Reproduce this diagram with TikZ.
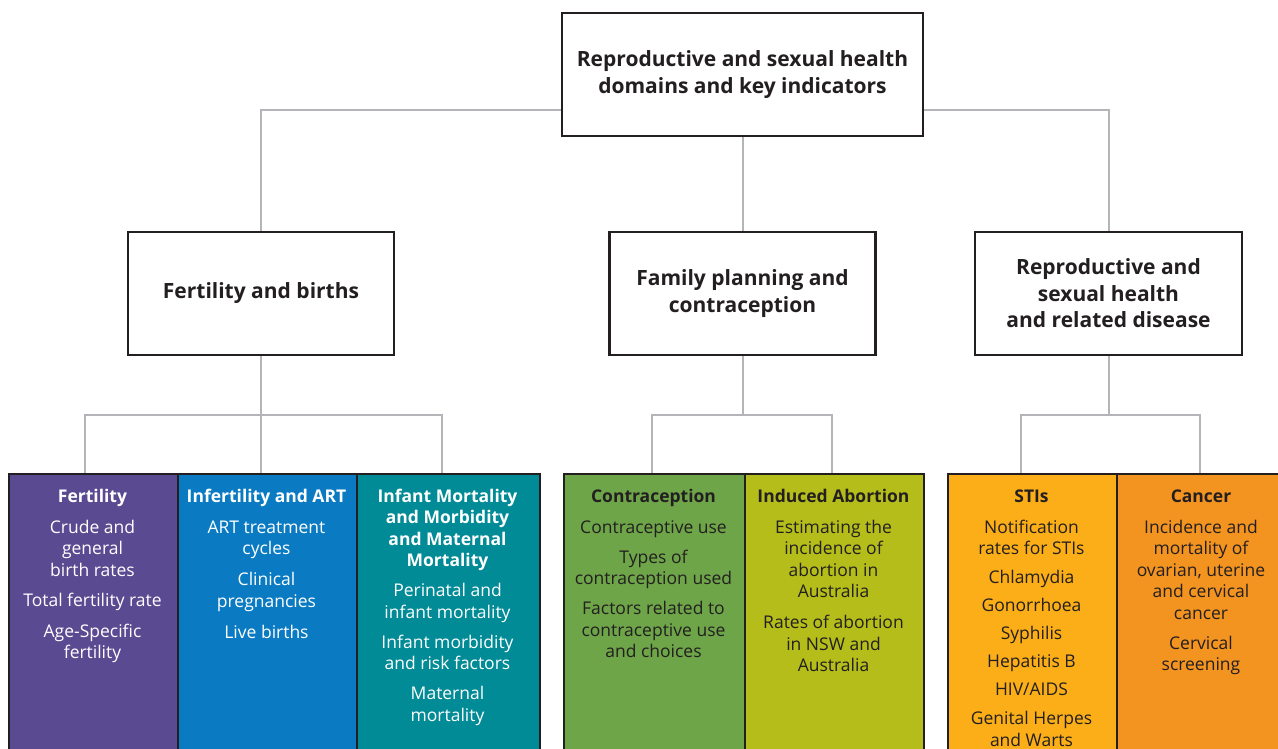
\documentclass[tikz,border=0pt]{standalone}
\usepackage{fontspec}
\setmainfont{Open Sans}
\definecolor{boxline}{HTML}{231F20}
\definecolor{txt}{HTML}{231F20}
\definecolor{connc}{HTML}{B4B5B8}
\definecolor{cpurple}{HTML}{5A4A92}
\definecolor{cblue}{HTML}{0A7BC2}
\definecolor{cteal}{HTML}{008B96}
\definecolor{cgreen}{HTML}{6DA548}
\definecolor{colive}{HTML}{B5BD1A}
\definecolor{camber}{HTML}{FBAE17}
\definecolor{corange}{HTML}{F39320}
\newcommand{\hd}[1]{\textbf{#1}}
\begin{document}
\begin{tikzpicture}[x=1pt,y=-1pt,
  hbox/.style={draw=boxline, line width=2.4pt, fill=white, inner sep=0pt, align=center,
    text=txt, font=\bfseries\fontsize{21}{26.5}\selectfont},
  conn/.style={draw=connc, line width=2pt},
  colbox/.style={draw=boxline, line width=2.2pt, anchor=north west, inner sep=0pt,
    minimum height=320pt},
  coltext/.style={anchor=north, inner sep=0pt, align=center,
    font=\fontsize{17.5}{21.5}\selectfont}]
\useasboundingbox (0,0) rectangle (1278,749);
\clip (0,0) rectangle (1278,749);

% level 1 and level 2 boxes
\node[hbox, minimum width=361pt, minimum height=123pt] (top) at (742.5,74.5)
  {Reproductive and sexual health\\domains and key indicators};
\node[hbox, minimum width=266pt, minimum height=123pt] (l2a) at (261,293.5)
  {Fertility and births};
\node[hbox, minimum width=266pt, minimum height=123pt] (l2b) at (742.5,293.5)
  {Family planning and\\contraception};
\node[hbox, minimum width=267pt, minimum height=123pt] (l2c) at (1108.5,293.5)
  {Reproductive and\\sexual health\\and related disease};

% junction coordinates
\coordinate (ja) at (261,415);
\coordinate (a1) at (85,473);
\coordinate (a2) at (261,473);
\coordinate (a3) at (442,473);
\coordinate (jb) at (742.5,415);
\coordinate (b1) at (652,473);
\coordinate (b2) at (832,473);
\coordinate (jc) at (1108.5,415);
\coordinate (c1) at (1021,473);
\coordinate (c2) at (1200,473);

% connectors
\draw[conn] (l2a.north) |- ([yshift=27pt]top.south west);
\draw[conn] (l2c.north) |- ([yshift=27pt]top.south east);
\draw[conn] (top.south) -- (l2b.north);
\draw[conn] (l2a.south) -- (ja);
\draw[conn] (a1) |- (ja) -| (a3);
\draw[conn] (ja) -- (a2);
\draw[conn] (l2b.south) -- (jb);
\draw[conn] (b1) |- (jb) -| (b2);
\draw[conn] (l2c.south) -- (jc);
\draw[conn] (c1) |- (jc) -| (c2);

% coloured columns
\node[colbox, fill=cpurple, minimum width=169pt] (k1) at (8,473) {};
\node[colbox, fill=cblue, minimum width=179pt] (k2) at (177,473) {};
\node[colbox, fill=cteal, minimum width=183pt] (k3) at (356,473) {};
\node[colbox, fill=cgreen, minimum width=181pt] (k4) at (563,473) {};
\node[colbox, fill=colive, minimum width=179pt] (k5) at (744,473) {};
\node[colbox, fill=camber, minimum width=169pt] (k6) at (947,473) {};
\node[colbox, fill=corange, minimum width=190pt] (k7) at (1116,473) {};

% column texts
\node[coltext, text=white] (t1) at (92.5,487)
  {\strut\hd{Fertility}\\[9.5pt]Crude and\\general\\birth rates\\[8.5pt]Total fertility rate\\[9.5pt]Age-Specific\\fertility};
\node[coltext, text=white] (t2) at (266.5,487)
  {\strut\hd{Infertility and ART}\\[9.5pt]ART treatment\\cycles\\[9.5pt]Clinical\\pregnancies\\[9.5pt]Live births};
\node[coltext, text=white] (t3) at (447.5,487)
  {\strut\hd{Infant Mortality}\\\hd{and Morbidity}\\\hd{and Maternal}\\\hd{Mortality}\\[8.5pt]Perinatal and\\infant mortality\\[8.5pt]Infant morbidity\\and risk factors\\[8.5pt]Maternal\\mortality};
\node[coltext, text=txt] (t4) at (653.5,487)
  {\strut\hd{Contraception}\\[9.5pt]Contraceptive use\\[8.5pt]Types of\\contraception used\\[8.5pt]Factors related to\\contraceptive use\\and choices};
\node[coltext, text=txt] (t5) at (833.5,487)
  {\strut\hd{Induced Abortion}\\[9.5pt]Estimating the\\incidence of\\abortion in\\Australia\\[9.5pt]Rates of abortion\\in NSW and\\Australia};
\node[coltext, text=txt] (t6) at (1031.5,487)
  {\strut\hd{STIs}\\[9.5pt]Notification\\rates for STIs\\[7.5pt]Chlamydia\\[6.5pt]Gonorrhoea\\[6.5pt]Syphilis\\[6.5pt]Hepatitis B\\[6.5pt]HIV/AIDS\\[7.5pt]Genital Herpes\\and Warts};
\node[coltext, text=txt] (t7) at (1201,487)
  {\strut\hd{Cancer}\\[9.5pt]Incidence and\\mortality of\\ovarian, uterine\\and cervical\\cancer\\[8.5pt]Cervical\\screening};
\end{tikzpicture}
\end{document}
